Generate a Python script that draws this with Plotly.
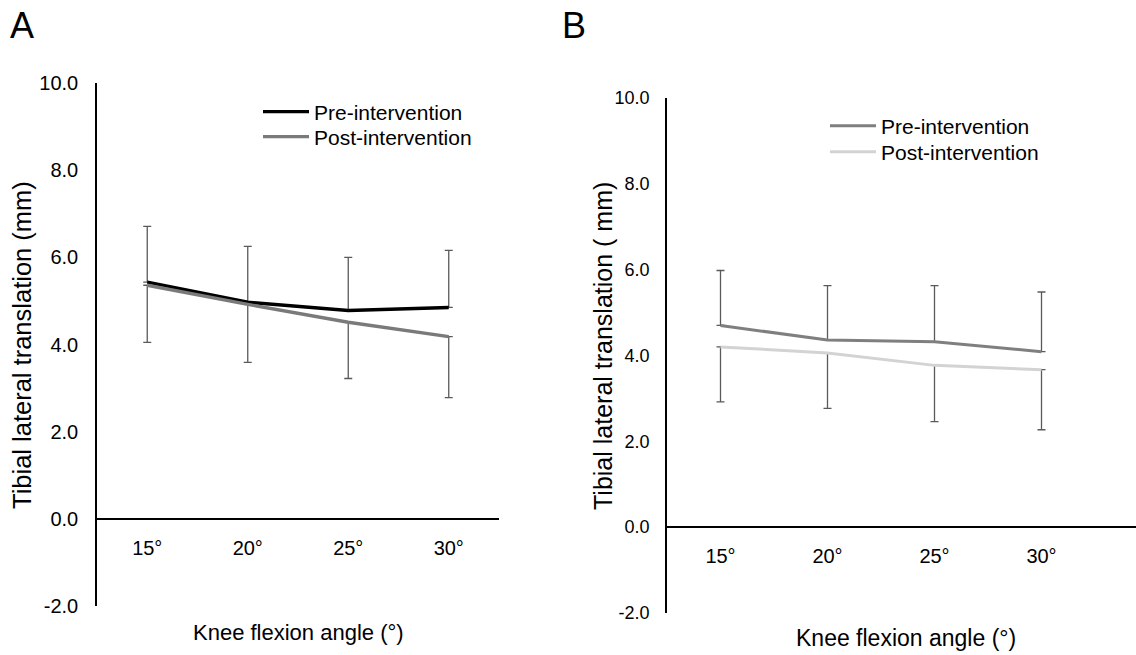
import plotly.graph_objects as go

W, H = 1136, 655

angles = ["15°", "20°", "25°", "30°"]
y_ticks = [-2, 0, 2, 4, 6, 8, 10]
y_tick_text = ["-2.0", "0.0", "2.0", "4.0", "6.0", "8.0", "10.0"]

# Panel A
a_pre = [5.43, 4.97, 4.78, 4.85]
a_pre_sd = [1.28, 1.28, 1.22, 1.31]
a_post = [5.36, 4.92, 4.51, 4.18]
a_post_sd = [1.31, 1.33, 1.29, 1.40]

# Panel B
b_pre = [4.70, 4.36, 4.32, 4.09]
b_pre_sd = [1.28, 1.27, 1.31, 1.39]
b_post = [4.20, 4.06, 3.77, 3.67]
b_post_sd = [1.28, 1.29, 1.31, 1.40]

FONT = "Liberation Sans, Arial, sans-serif"
ERR_COLOR = "#5a5a5a"


def px(x):
    return x / W


def py(y):
    return 1 - y / H


fig = go.Figure()


def add_series(xa, ya, vals, sd, color, width, name, legend, up):
    zeros = [0] * len(vals)
    fig.add_trace(go.Scatter(
        x=angles, y=vals, mode="lines", name=name,
        line=dict(color=color, width=width),
        xaxis=xa, yaxis=ya, legend=legend,
        error_y=dict(type="data", symmetric=False,
                     array=sd if up else zeros,
                     arrayminus=zeros if up else sd,
                     color=ERR_COLOR, thickness=1.3, width=4),
    ))


add_series("x", "y", a_pre, a_pre_sd, "#000000", 3.4, "Pre-intervention", "legend", True)
add_series("x", "y", a_post, a_post_sd, "#7a7a7a", 3.4, "Post-intervention", "legend2", False)
add_series("x2", "y2", b_pre, b_pre_sd, "#7f7f7f", 3, "Pre-intervention", "legend3", True)
add_series("x2", "y2", b_post, b_post_sd, "#d3d3d3", 3, "Post-intervention", "legend4", False)

# geometry
A_x0, A_x1, A_top, A_bot = 97, 499, 83, 606
B_x0, B_x1, B_top, B_bot = 667, 1136, 98, 613
ymin, ymax = -2, 10


def zero_pos(top, bot):
    d0, d1 = py(bot), py(top)
    return d0 + (0 - ymin) / (ymax - ymin) * (d1 - d0)


b_cat = 107.0
b_range_end = (B_x1 - B_x0) / b_cat - 0.5

common_x = dict(type="category", showline=True, linecolor="black", linewidth=1.5,
                showgrid=False, zeroline=False, ticks="", anchor="free",
                tickfont=dict(family=FONT, size=20, color="black"),
                ticklabelstandoff=11, automargin=False)
common_y = dict(range=[ymin, ymax], tickvals=y_ticks, ticktext=y_tick_text,
                showline=True, linecolor="black", linewidth=1.5,
                showgrid=False, zeroline=False, ticks="", automargin=False)


def leg(x, y):
    return dict(x=px(x), y=py(y), xanchor="left", yanchor="middle",
                font=dict(family=FONT, size=21, color="black"),
                bgcolor="rgba(0,0,0,0)", itemwidth=46)


fig.update_layout(
    width=W, height=H,
    margin=dict(l=0, r=0, t=0, b=0, pad=0, autoexpand=False),
    paper_bgcolor="white", plot_bgcolor="white",
    showlegend=True,
    xaxis=dict(domain=[px(A_x0), px(A_x1)], range=[-0.5, 3.5],
               position=zero_pos(A_top, A_bot), **common_x),
    yaxis=dict(domain=[py(A_bot), py(A_top)], anchor="x",
               tickfont=dict(family=FONT, size=20, color="black"),
               ticklabelstandoff=13, **common_y),
    xaxis2=dict(domain=[px(B_x0), px(B_x1)], range=[-0.5, b_range_end],
                position=zero_pos(B_top, B_bot), **common_x),
    yaxis2=dict(domain=[py(B_bot), py(B_top)], anchor="x2",
                tickfont=dict(family=FONT, size=18, color="black"),
                ticklabelstandoff=12, **common_y),
    legend=leg(258, 112),
    legend2=leg(258, 137),
    legend3=leg(825, 126),
    legend4=leg(825, 152),
)

annots = [
    dict(text="A", x=px(8), y=py(3), xanchor="left", yanchor="top", font=dict(size=36)),
    dict(text="B", x=px(560), y=py(3), xanchor="left", yanchor="top", font=dict(size=36)),
    dict(text="Knee flexion angle (°)", x=px(298), y=py(632), xanchor="center", yanchor="middle",
         font=dict(size=22)),
    dict(text="Knee flexion angle (°)", x=px(906), y=py(638), xanchor="center", yanchor="middle",
         font=dict(size=23)),
    dict(text="Tibial lateral translation (mm)", x=px(22), y=py(345), xanchor="center",
         yanchor="middle", textangle=-90, font=dict(size=25.5)),
    dict(text="Tibial lateral translation ( mm)", x=px(603), y=py(346), xanchor="center",
         yanchor="middle", textangle=-90, font=dict(size=25)),
]
for a in annots:
    a["font"].update(family=FONT, color="black")
    fig.add_annotation(xref="paper", yref="paper", showarrow=False, **a)

post = (
    "document.documentElement.style.margin='0px';"
    "document.body.style.margin='0px';document.body.style.padding='0px';"
    "document.body.style.overflow='hidden';"
)

fig.write_html("out.html", config={"displayModeBar": False}, post_script=post)
